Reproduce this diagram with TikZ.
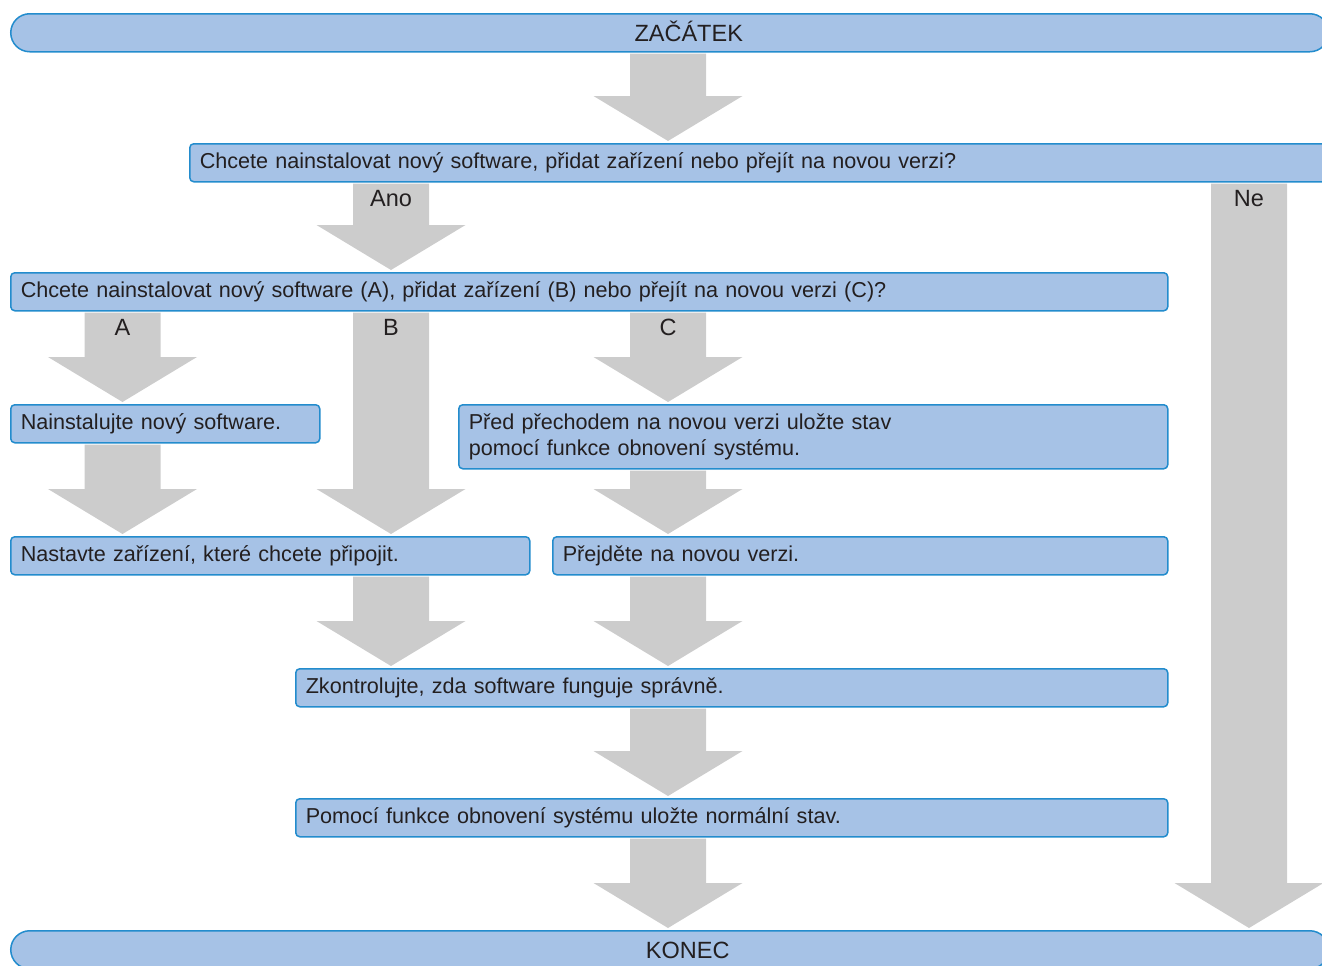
\documentclass[tikz,border=0pt]{standalone}
\usepackage{fontspec}
\setmainfont{Liberation Sans}
\usetikzlibrary{calc}
\definecolor{boxfill}{RGB}{166,194,230}
\definecolor{boxline}{RGB}{35,140,205}
\definecolor{flow}{RGB}{204,204,204}
\definecolor{ink}{RGB}{35,31,32}
\newcommand{\boxfont}{\fontsize{21.6bp}{26bp}\selectfont}
\newcommand{\tagfont}{\fontsize{23.5bp}{28bp}\selectfont}

% fat grey arrow: [label], x of its axis, node above, node below
\newcommand{\flowarrow}[4][]{%
  \path (#2,0 |- #3.south) coordinate (atop) (#2,0 |- #4.north) coordinate (atip);
  \fill[flow] ([xshift=-38bp,yshift=-1bp]atop) -- ([xshift=-38bp,yshift=47bp]atip)
    -- ([xshift=-74.5bp,yshift=47bp]atip) -- ([yshift=2bp]atip)
    -- ([xshift=74.5bp,yshift=47bp]atip) -- ([xshift=38bp,yshift=47bp]atip)
    -- ([xshift=38bp,yshift=-1bp]atop) -- cycle;
  \if\relax\detokenize{#1}\relax\else
    \node[flowlabel] at ([yshift=-23.5bp]atop) {#1};
  \fi
}

\begin{document}
\begin{tikzpicture}[x=1bp, y=-1bp, font=\boxfont, text=ink,
    stepbox/.style={draw=boxline, fill=boxfill, line width=1.5bp, rounded corners=4bp,
                    anchor=north west, minimum height=38bp, inner xsep=10bp, inner ysep=4bp, align=left},
    endbar/.style={stepbox, rounded corners=19bp, font=\tagfont, inner xsep=0pt,
                   text width=1318bp, align=center, text height=16.8bp, text depth=0pt},
    flowlabel/.style={anchor=base, font=\tagfont, inner sep=0pt}
]
\useasboundingbox (0,0) rectangle (1322,965);

\node[endbar] (start) at (10,13) {\hspace*{38bp}ZAČÁTEK};
\node[stepbox, text width=1130bp] (q1) at (189,143)
    {Chcete nainstalovat nový software, přidat zařízení nebo přejít na novou verzi?};
\node[stepbox, text width=1137bp] (q2) at (10,272)
    {Chcete nainstalovat nový software (A), přidat zařízení (B) nebo přejít na novou verzi (C)?};
\node[stepbox, text width=289bp] (soft) at (10,404) {Nainstalujte nový software.};
\node[stepbox, text width=689bp, minimum height=64bp] (save) at (458,404)
    {Před přechodem na novou verzi uložte stav\\pomocí funkce obnovení systému.};
\node[stepbox, text width=499bp] (dev) at (10,536) {Nastavte zařízení, které chcete připojit.};
\node[stepbox, text width=595bp] (upg) at (552,536) {Přejděte na novou verzi.};
\node[stepbox, text width=852bp] (check) at (295,668) {Zkontrolujte, zda software funguje správně.};
\node[stepbox, text width=852bp] (norm) at (295,798)
    {Pomocí funkce obnovení systému uložte normální stav.};
\node[endbar] (konec) at (10,930) {\hspace*{36bp}KONEC};

\flowarrow{668}{start}{q1}
\flowarrow[Ano]{391}{q1}{q2}
\flowarrow[Ne]{1249}{q1}{konec}
\flowarrow[A]{122.5}{q2}{soft}
\flowarrow[B]{391}{q2}{dev}
\flowarrow[C]{668}{q2}{save}
\flowarrow{122.5}{soft}{dev}
\flowarrow{668}{save}{upg}
\flowarrow{391}{dev}{check}
\flowarrow{668}{upg}{check}
\flowarrow{668}{check}{norm}
\flowarrow{668}{norm}{konec}
\end{tikzpicture}
\end{document}
